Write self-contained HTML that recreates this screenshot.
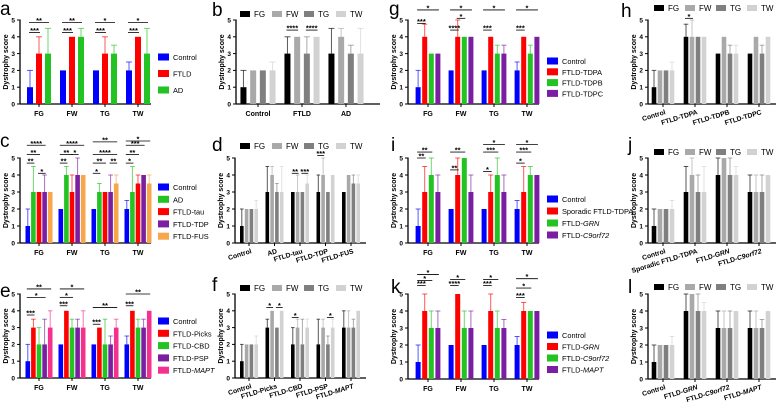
<!DOCTYPE html>
<html><head><meta charset="utf-8"><style>
html,body{margin:0;padding:0;background:#fff;}
svg{display:block;font-family:"Liberation Sans",Arial,sans-serif;}
</style></head><body>
<svg id="fig" width="778" height="404" viewBox="0 0 778 404" xmlns="http://www.w3.org/2000/svg"></svg>
<script>
// ---------- DATA ----------
const regions = ['FG','FW','TG','TW'];
// a
const aSeries = ['Control','FTLD','AD'];
const aVals = [[1,2,2,2],[3,4,3,4],[3,4,3,3]];
const aErrs = [[2,2,2,2.5],[4,4,4,4],[4.5,4.5,3.5,4.5]];
const aSig = [[0,0,1,4.25,'***'],[0,0,2,4.85,'**'],[1,0,1,4.25,'***'],[1,0,2,4.85,'**'],[2,0,1,4.25,'***'],[2,0,2,4.85,'*'],[3,0,1,4.25,'***'],[3,0,2,4.85,'*']];
// b
const bCats = ['Control','FTLD','AD'];
const bVals = [[1,3,3],[2,4,4],[2,3,3],[2,4,3]];
const bErrs = [[2,4,4.5],[2,4,4.5],[2,4,3.5],[2.5,4,4.5]];
const bSig = [[1,0,1,4.4,'****'],[1,2,3,4.4,'****']];
// c
const cSeries = ['Control','AD','FTLD-tau','FTLD-TDP','FTLD-FUS'];
const cVals = [[1,2,2,2],[3,4,3,3],[3,3,3,3.5],[3,4,3,4],[3,4,3.5,3.5]];
const cErrs = [[2,2,2,2.5],[4.5,4.5,3.5,4.5],[3,4,3,4],[4,5,4,4],[3,4,4,4]];
const cSig = [[0,0,1,4.7,'**'],[0,2,3,4.1,'*'],[0,0,2,5.2,'**'],[0,0,3,5.75,'****'],
  [1,0,1,4.7,'**'],[1,0,2,5.2,'**'],[1,2,3,5.2,'*'],[1,0,4,5.75,'****'],
  [2,0,1,4.1,'*'],[2,0,2,4.7,'**'],[2,3,4,4.7,'**'],[2,0,4,5.2,'****'],[2,0,4,5.95,'**'],
  [3,0,1,4.7,'*'],[3,0,2,5.2,'**'],[3,0,3,5.75,'***'],[3,0,4,6.0,'*']];
// d
const dCats = ['Control','AD','FTLD-tau','FTLD-TDP','FTLD-FUS'];
const dVals = [[1,3,3,3,3],[2,4,3,4,4],[2,3,3,3,3.5],[2,3,3.5,4,3.5]];
const dErrs = [[2,4.5,3,4,3],[2,4.5,4,5,4],[2,3.5,3,3,4],[2.5,4.5,4,4,4]];
const dSig = [[2,0,1,4.1,'**'],[2,2,3,4.1,'***'],[3,0,1,5.15,'***']];
// e
const eSeries = ['Control','FTLD-Picks','FTLD-CBD','FTLD-PSP','FTLD-MAPT'];
const eVals = [[1,2,2,2],[3,4,3,4],[2,3,2,3],[2,3,2,3],[3,3,3,4]];
const eErrs = [[2,2,2,2.5],[3.5,4,3,4],[3,3.5,3.5,3.5],[3.5,3.5,2.5,3.5],[4,4,3.5,4]];
const eSig = [[0,0,1,3.75,'***'],[0,0,3,4.8,'*'],[0,0,4,5.3,'**'],[1,0,1,4.3,'***'],[1,0,2,4.8,'*'],[1,0,4,5.3,'*'],
  [2,0,1,3.2,'***'],[2,0,4,4.2,'**'],[3,0,1,4.3,'***'],[3,0,4,5.0,'**']];
// f
const fCats = ['Control','FTLD-Picks','FTLD-CBD','FTLD-PSP','FTLD-MAPT'];
const fVals = [[1,3,2,2,3],[2,4,3,3,3],[2,3,2,2,3],[2,4,3,3,4]];
const fErrs = [[2,3.5,3,3.5,4],[2,4,3.5,3.5,4],[2,3,3.5,2.5,3.5],[2.5,4,3.5,3.5,4]];
const fSig = [[1,0,1,4.2,'*'],[1,2,3,4.2,'*'],[2,0,1,3.6,'*'],[3,2,3,3.6,'*']];
// g
const gSeries = ['Control','FTLD-TDPA','FTLD-TDPB','FTLD-TDPC'];
const gVals = [[1,2,2,2],[4,4,4,4],[3,4,3,3],[3,4,3,4]];
const gErrs = [[2,2,2,2.5],[4.75,5,4,4],[3,4,3.5,3.5],[3,4,3.5,4]];
const gSig = [[0,0,1,4.8,'***'],[0,0,3,5.6,'*'],[1,0,1,4.4,'****'],[1,1,2,5.1,'*'],[1,0,3,5.6,'*'],
  [2,0,1,4.4,'***'],[2,0,3,5.6,'*'],[3,0,1,4.4,'***'],[3,0,3,5.6,'*']];
// h
const hCats = ['Control','FTLD-TDPA','FTLD-TDPB','FTLD-TDPC'];
const hVals = [[1,4,3,3],[2,4,4,4],[2,4,3,3],[2,4,3,4]];
const hErrs = [[2,4.75,3,3],[2,5,4,4],[2,4,3.5,3.5],[2.5,4,3.5,4]];
const hSig = [[1,0,1,5.1,'*']];
// i
const iSeries = ['Control','Sporadic FTLD-TDPA','FTLD-GRN','FTLD-C9orf72'];
const iVals = [[1,2,2,2],[3,4,3,3],[4,5,4,4],[3,3,3,4]];
const iErrs = [[2,2,2,2.5],[4.5,5,4,4.5],[5,5,5,4.5],[4,4,4,4]];
const iSig = [[0,0,1,5.0,'**'],[0,0,2,5.35,'**'],[1,0,1,4.3,'**'],[1,0,2,5.35,'**'],
  [2,0,1,4.2,'*'],[2,0,2,5.35,'***'],[2,0,3,5.8,'*'],[3,0,1,4.7,'*'],[3,0,2,5.35,'***'],[3,0,3,5.8,'*']];
// j
const jCats = ['Control','Sporadic FTLD-TDPA','FTLD-GRN','FTLD-C9orf72'];
const jVals = [[1,3,4,3],[2,4,5,3],[2,3,4,3],[2,3,4,4]];
const jErrs = [[2,4.5,5,4],[2,5,5,4],[2,4,5,4],[2.5,4.5,4.5,4]];
const jSig = [];
// k
const kSeries = ['Control','FTLD-GRN','FTLD-C9orf72','FTLD-MAPT'];
const kVals = [[1,2,2,2],[4,5,4,4],[3,3,3,4],[3,3,3,4]];
const kErrs = [[2,2,2,2.5],[5,5,5,4.5],[4,4,4,4],[4,4,3.5,4]];
const kSig = [[0,0,1,5.5,'***'],[0,0,2,5.8,'*'],[0,0,3,6.15,'*'],[1,0,1,5.5,'****'],[1,0,2,5.85,'*'],
  [2,0,1,5.5,'***'],[2,0,2,5.85,'*'],[3,0,1,4.8,'***'],[3,0,2,5.35,'*'],[3,0,3,5.9,'*']];
// l
const lCats = ['Control','FTLD-GRN','FTLD-C9orf72','FTLD-MAPT'];
const lVals = [[1,4,3,3],[2,5,3,3],[2,4,3,3],[2,4,4,4]];
const lErrs = [[2,5,4,4],[2,5,4,4],[2,5,4,3.5],[2.5,4.5,4,4]];
const lSig = [];
const yTicks = [0,1,2,3,4,5];

// ---------- STYLE ----------
const grayCols = ['#000000','#a9a9a9','#7f7f7f','#d2d2d2'];
const NS = 'http://www.w3.org/2000/svg';
const svg = document.getElementById('fig');
function mk(tag, attrs, parent){
  const el = document.createElementNS(NS, tag);
  for (const k in attrs) el.setAttribute(k, attrs[k]);
  (parent || svg).appendChild(el);
  return el;
}
function setText(el, s){
  const re = /(GRN|C9orf72|MAPT)/g;
  let last = 0, m;
  while ((m = re.exec(s))){
    if (m.index > last) el.appendChild(document.createTextNode(s.slice(last, m.index)));
    const t = document.createElementNS(NS,'tspan'); t.setAttribute('font-style','italic'); t.textContent = m[0]; el.appendChild(t);
    last = m.index + m[0].length;
  }
  if (last < s.length) el.appendChild(document.createTextNode(s.slice(last)));
}

function panel(P){
  const g = mk('g', {});
  
  
  const y = v => P.y0 - (P.y0 - P.y5) * v / 5;
  const n = P.series.length;
  const bx = (c, s) => P.c0 + c * P.gp + (s - (n - 1) / 2) * P.bp;
  const L = mk('text', {x: P.lx, y: P.ly, 'font-size': 19}, g);
  L.textContent = P.id;
  
  
  const ya = mk('line', {x1: P.x0, x2: P.x0, y1: P.y5 - 0.5, y2: P.y0, stroke: '#000', 'stroke-width': 1.3}, g);
  
  
  const xa = mk('line', {x1: P.x0, x2: P.xEnd, y1: P.y0, y2: P.y0, stroke: '#000', 'stroke-width': 1.3}, g);
  
  
  yTicks.forEach(t => {
    const tk = mk('line', {x1: P.x0 - 3, x2: P.x0, y1: y(t), y2: y(t), stroke: '#000', 'stroke-width': 1}, g);
    
    
    const tl = mk('text', {x: P.x0 - 5, y: y(t) + 2.3, 'font-size': 6.5, 'font-weight': 'bold', 'text-anchor': 'end'}, g);
    tl.textContent = t;
    
    
  });
  const yt = mk('text', {x: 0, y: 0, 'font-size': 7, 'font-weight': 'bold', 'text-anchor': 'middle', transform: `translate(${P.x0 - 12},${(P.y5 + P.y0) / 2}) rotate(-90)`}, g);
  yt.textContent = 'Dystrophy score';
  
  
  P.cats.forEach((c, ci) => {
    const cx = P.c0 + ci * P.gp;
    const tk = mk('line', {x1: cx, x2: cx, y1: P.y0, y2: P.y0 + 3, stroke: '#000', 'stroke-width': 1}, g);
    
    
    let t;
    if (P.rot) t = mk('text', {x: 0, y: 0, 'font-size': 6.8, 'font-weight': 'bold', 'text-anchor': 'end', transform: `translate(${cx + 3},${P.y0 + 10}) rotate(-17)`}, g);
    else t = mk('text', {x: cx, y: P.y0 + 12, 'font-size': 7, 'font-weight': 'bold', 'text-anchor': 'middle'}, g);
    setText(t, c);
    
    
  });
  P.series.forEach((s, si) => {
    P.cats.forEach((c, ci) => {
      const v = P.vals[si][ci], e = P.errs[si][ci];
      const x = bx(ci, si);
      if (e > v) {
        const el = mk('line', {x1: x, x2: x, y1: y(v), y2: y(e), stroke: P.colors[si], 'stroke-width': 1, opacity: 0.65}, g);
        
        
        const cap = mk('line', {x1: x - P.bw / 2, x2: x + P.bw / 2, y1: y(e), y2: y(e), stroke: P.colors[si], 'stroke-width': 1, opacity: 0.65}, g);
        
        
      }
      const r = mk('rect', {x: x - P.bw / 2, y: y(v), width: P.bw, height: P.y0 - y(v), fill: P.colors[si]}, g);
      
      
    });
  });
  P.sig.forEach(b => {
    const yy = y(b[3]);
    const x1 = bx(b[0], b[1]) - 1, x2 = bx(b[0], b[2]) + 1;
    const ln = mk('line', {x1: x1, x2: x2, y1: yy, y2: yy, stroke: '#000', 'stroke-width': 0.8}, g);
    
    
    const st = mk('text', {x: (x1 + x2) / 2, y: yy + 0.5, 'font-size': 7.5, 'font-weight': 'bold', 'text-anchor': 'middle'}, g);
    st.textContent = b[4];
    
    
  });
  P.series.forEach((s, si) => {
    let sx, sy, w, h;
    if (P.leg.h) { sx = P.leg.x + si * P.leg.d; sy = P.leg.y; w = 10; h = 6; }
    else { sx = P.leg.x; sy = P.leg.y + si * P.leg.d; w = 11; h = 7; }
    const sq = mk('rect', {x: sx, y: sy - h / 2, width: w, height: h, fill: P.colors[si]}, g);
    
    
    const lt = mk('text', {x: sx + w + 4, y: sy + 3, 'font-size': P.leg.h ? 8 : 7.4}, g);
    setText(lt, s);
    
    
  });
}

const C3 = ['#0000ff','#ff0000','#22c322'];
panel({id:'a', lx:0, ly:15, x0:20, xEnd:151, y5:20, y0:104, c0:39, gp:33, bp:9, bw:6, cats:regions, series:aSeries, vals:aVals, errs:aErrs, colors:C3, sig:aSig, leg:{x:158, y:57, d:16.5}});
panel({id:'b', lx:212, ly:16, x0:236, xEnd:380, y5:20, y0:104, c0:258, gp:44, bp:9.7, bw:6, cats:bCats, series:regions, vals:bVals, errs:bErrs, colors:grayCols, sig:bSig, leg:{h:true, x:240, y:14, d:32}});
panel({id:'c', lx:0, ly:147, x0:20, xEnd:151, y5:158, y0:243, c0:39, gp:33, bp:5.6, bw:4.6, cats:regions, series:cSeries, vals:cVals, errs:cErrs, colors:['#0000ff','#22c322','#ff0000','#7b1fa2','#f7a64c'], sig:cSig, leg:{x:158, y:187, d:12.3}});
panel({id:'d', lx:212, ly:151, x0:235, xEnd:366, y5:158, y0:243, c0:249, gp:25.5, bp:4.8, bw:3.6, cats:dCats, series:regions, vals:dVals, errs:dErrs, colors:grayCols, sig:dSig, rot:true, leg:{h:true, x:240, y:146, d:32}});
panel({id:'e', lx:0, ly:297, x0:20, xEnd:151, y5:294, y0:378, c0:39, gp:33, bp:5.6, bw:4.6, cats:regions, series:eSeries, vals:eVals, errs:eErrs, colors:['#0000ff','#ff0000','#22c322','#7b1fa2','#f5318e'], sig:eSig, leg:{x:158, y:321, d:12.3}});
panel({id:'f', lx:212, ly:291, x0:235, xEnd:366, y5:294, y0:378, c0:249, gp:25.5, bp:4.8, bw:3.6, cats:fCats, series:regions, vals:fVals, errs:fErrs, colors:grayCols, sig:fSig, rot:true, leg:{h:true, x:240, y:288, d:32}});
const C4 = ['#0000ff','#ff0000','#22c322','#7b1fa2'];
panel({id:'g', lx:389, ly:15, x0:408, xEnd:539, y5:20, y0:104, c0:428, gp:33, bp:6.6, bw:5, cats:regions, series:gSeries, vals:gVals, errs:gErrs, colors:C4, sig:gSig, leg:{x:547, y:61, d:10.8}});
panel({id:'h', lx:621, ly:17, x0:648, xEnd:776, y5:20, y0:104, c0:663, gp:32, bp:6, bw:4.6, cats:hCats, series:regions, vals:hVals, errs:hErrs, colors:grayCols, sig:hSig, rot:true, leg:{h:true, x:654, y:8, d:31}});
panel({id:'i', lx:391, ly:151, x0:408, xEnd:539, y5:158, y0:243, c0:428, gp:33, bp:6.6, bw:5, cats:regions, series:iSeries, vals:iVals, errs:iErrs, colors:C4, sig:iSig, leg:{x:547, y:199, d:12}});
panel({id:'j', lx:628, ly:151, x0:648, xEnd:776, y5:158, y0:243, c0:663, gp:32, bp:6, bw:4.6, cats:jCats, series:regions, vals:jVals, errs:jErrs, colors:grayCols, sig:jSig, rot:true, leg:{h:true, x:654, y:152, d:31}});
panel({id:'k', lx:391, ly:293, x0:408, xEnd:539, y5:294, y0:379, c0:428, gp:33, bp:6.6, bw:5, cats:regions, series:kSeries, vals:kVals, errs:kErrs, colors:C4, sig:kSig, leg:{x:547, y:335, d:11.5}});
panel({id:'l', lx:628, ly:293, x0:648, xEnd:776, y5:294, y0:379, c0:663, gp:32, bp:6, bw:4.6, cats:lCats, series:regions, vals:lVals, errs:lErrs, colors:grayCols, sig:lSig, rot:true, leg:{h:true, x:654, y:287, d:31}});
</script>
</body></html>
